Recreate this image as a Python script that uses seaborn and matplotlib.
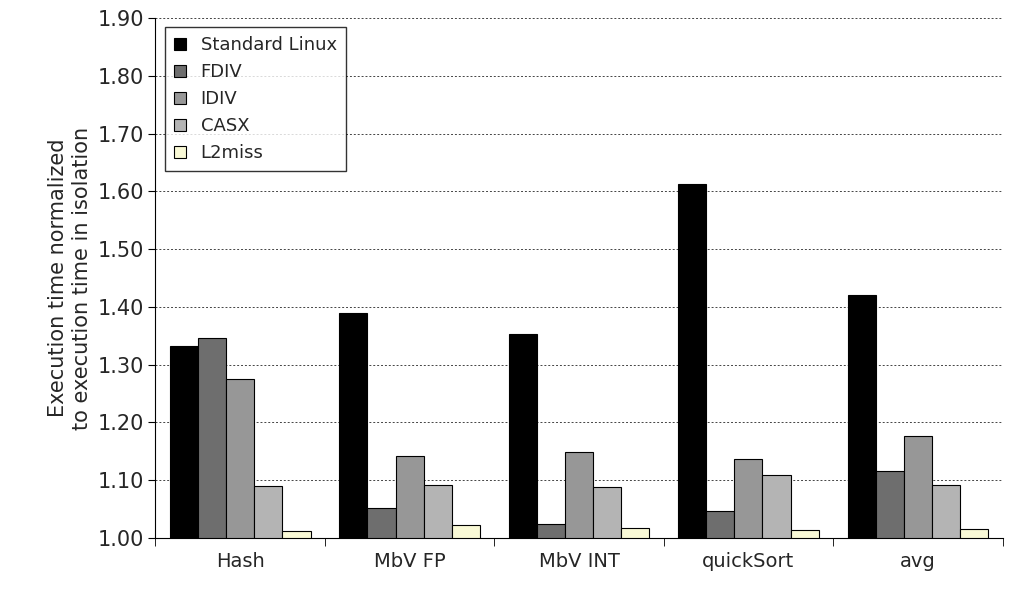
import matplotlib
matplotlib.use("Agg")
import matplotlib.pyplot as plt
import seaborn as sns, pandas as pd, numpy as np

categories = ["Hash", "MbV FP", "MbV INT", "quickSort", "avg"]
series = ["Standard Linux", "FDIV", "IDIV", "CASX", "L2miss"]
standard_linux = [1.332, 1.389, 1.353, 1.612, 1.420]
fdiv = [1.346, 1.052, 1.024, 1.047, 1.116]
idiv = [1.275, 1.142, 1.149, 1.137, 1.176]
casx = [1.090, 1.092, 1.088, 1.109, 1.092]
l2miss = [1.012, 1.022, 1.017, 1.014, 1.016]
colors = ["#000000", "#6e6e6e", "#979797", "#b4b4b4", "#ffffd0"]

rows = []
for s, vals in zip(series, [standard_linux, fdiv, idiv, casx, l2miss]):
    for c, v in zip(categories, vals):
        rows.append([c, s, v])
df = pd.DataFrame(rows, columns=["Benchmark", "Setup", "Value"])

sns.set_style("white")
f, ax = plt.subplots(figsize=(10.23, 6.03), dpi=100)
f.subplots_adjust(left=0.152, right=0.98, top=0.97, bottom=0.108)
ax.yaxis.grid(True, color="#444444", linestyle=(0, (2, 2)), linewidth=0.7)
ax.set_axisbelow(True)
sns.barplot(data=df, x="Benchmark", y="Value", hue="Setup", palette=colors,
            edgecolor="black", linewidth=0.8, width=0.83, ax=ax)
ax.set_ylim(1.0, 1.9)
ax.set_yticks(np.arange(1.0, 1.91, 0.1))
ax.set_yticklabels([f"{t:.2f}" for t in np.arange(1.0, 1.91, 0.1)], fontsize=15)
ax.set_xlim(-0.5, 4.5)
ax.set_xticks(np.arange(5))
ax.set_xticklabels(categories, fontsize=14)
ax.set_xticks(np.arange(-0.5, 5, 1), minor=True)
ax.tick_params(axis="x", which="major", length=0, pad=10)
ax.tick_params(axis="x", which="minor", length=6, color="black", direction="out", bottom=True)
ax.tick_params(axis="y", length=5, color="black", direction="out", left=True)
ax.set_xlabel("")
ax.set_ylabel("Execution time normalized\nto execution time in isolation", fontsize=15)
for side in ["top", "right"]:
    ax.spines[side].set_visible(False)
for side in ["left", "bottom"]:
    ax.spines[side].set_color("black")
leg = ax.legend(loc="upper left", bbox_to_anchor=(0.0, 1.0), fontsize=13,
                frameon=True, fancybox=False, edgecolor="black",
                handlelength=0.7, handleheight=0.7, borderpad=0.5)
leg.get_frame().set_linewidth(1.0)
f.savefig("out.png", dpi=100)
